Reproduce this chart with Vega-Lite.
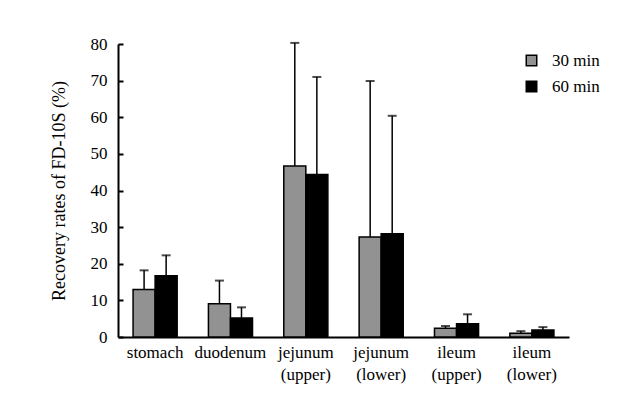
{
  "$schema": "https://vega.github.io/schema/vega-lite/v6.json",
  "autosize": "none",
  "width": 451,
  "height": 293,
  "padding": {"left": 118, "top": 44, "right": 65, "bottom": 66},
  "background": "white",
  "config": {
    "font": "Liberation Serif",
    "view": {"stroke": null},
    "axis": {"labelFont": "Liberation Serif", "titleFont": "Liberation Serif", "labelColor": "black", "titleColor": "black", "grid": false, "domainColor": "black", "domainWidth": 2, "tickColor": "black"},
    "legend": {"labelFont": "Liberation Serif", "labelColor": "black"},
    "style": {"guide-label": {"font": "Liberation Serif"}, "guide-title": {"font": "Liberation Serif"}}
  },
  "data": {
    "values": [
      {"organ": "stomach", "time": "30 min", "value": 13.0, "upper": 18.2},
      {"organ": "stomach", "time": "60 min", "value": 16.7, "upper": 22.3},
      {"organ": "duodenum", "time": "30 min", "value": 9.1, "upper": 15.4},
      {"organ": "duodenum", "time": "60 min", "value": 5.2, "upper": 8.1},
      {"organ": "jejunum (upper)", "time": "30 min", "value": 46.7, "upper": 80.3},
      {"organ": "jejunum (upper)", "time": "60 min", "value": 44.4, "upper": 71.0},
      {"organ": "jejunum (lower)", "time": "30 min", "value": 27.3, "upper": 69.9},
      {"organ": "jejunum (lower)", "time": "60 min", "value": 28.2, "upper": 60.4},
      {"organ": "ileum (upper)", "time": "30 min", "value": 2.4, "upper": 3.0},
      {"organ": "ileum (upper)", "time": "60 min", "value": 3.6, "upper": 6.2},
      {"organ": "ileum (lower)", "time": "30 min", "value": 1.0, "upper": 1.6},
      {"organ": "ileum (lower)", "time": "60 min", "value": 1.9, "upper": 2.7}
    ]
  },
  "encoding": {
    "x": {
      "field": "organ", "type": "nominal", "sort": null,
      "scale": {"paddingInner": 0.415, "paddingOuter": 0.2},
      "axis": {"title": null, "labelAngle": 0, "ticks": false, "labelFontSize": 17, "labelPadding": 7, "labelExpr": "split(datum.label, ' ')", "labelLineHeight": 22, "labelBaseline": "top"}
    },
    "xOffset": {"field": "time", "type": "nominal", "sort": null, "scale": {"paddingInner": 0, "paddingOuter": 0}}
  },
  "layer": [
    {
      "mark": {"type": "bar", "stroke": "black", "strokeWidth": 1.5, "clip": false},
      "encoding": {
        "y": {
          "field": "value", "type": "quantitative",
          "scale": {"domain": [0, 80], "nice": false},
          "axis": {"title": "Recovery rates of FD-10S (%)", "titleFontSize": 18, "titleFontWeight": "normal", "titlePadding": 22, "labelFontSize": 17, "tickCount": 8, "tickSize": -5, "tickWidth": 2, "labelPadding": 16}
        },
        "color": {
          "field": "time", "type": "nominal",
          "scale": {"domain": ["30 min", "60 min"], "range": ["#929292", "#000000"]},
          "legend": {"title": null, "orient": "none", "legendX": 405, "legendY": 8, "symbolType": "square", "symbolSize": 110, "symbolStrokeColor": "black", "symbolStrokeWidth": 1.5, "labelFontSize": 17, "rowPadding": 8, "labelOffset": 12}
        }
      }
    },
    {
      "mark": {"type": "rule", "color": "black", "strokeWidth": 1.5, "clip": false},
      "encoding": {
        "y": {"field": "value", "type": "quantitative"},
        "y2": {"field": "upper"}
      }
    },
    {
      "mark": {"type": "tick", "color": "black", "size": 9, "thickness": 2, "clip": false},
      "encoding": {
        "y": {"field": "upper", "type": "quantitative"}
      }
    }
  ]
}
